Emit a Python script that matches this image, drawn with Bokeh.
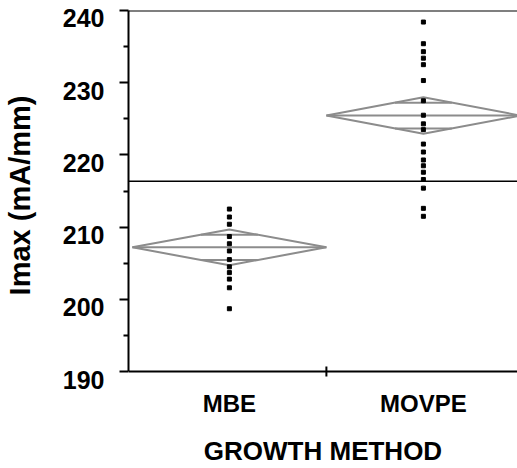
import math
from bokeh.plotting import figure
from bokeh.models import Range1d, FixedTicker, Span, LinearAxis
from bokeh.embed import file_html
from bokeh.resources import INLINE

# ---- data ----
groups = ["MBE", "MOVPE"]
group_x = [0.5, 1.5]
mbe_values = [212.5, 211.4, 210.4, 208.7, 207.7, 206.7, 205.5, 204.5,
              203.7, 202.8, 201.6, 198.7]
movpe_values = [238.4, 235.4, 234.3, 233.4, 232.5, 230.3, 227.5, 225.5,
                224.3, 223.5, 221.5, 220.4, 219.3, 218.5, 217.6, 216.6,
                215.4, 212.6, 211.5]
group_means = [207.2, 225.45]
ci_half = [2.47, 2.53]
grand_mean = 216.35
y_ticks = [190, 200, 210, 220, 230, 240]
y_minor = [195, 205, 215, 225, 235]
divider = [1.0]
y_title = "Imax (mA/mm)"
x_title = "GROWTH METHOD"

FONT = "Liberation Sans"
GRAY = "#8c8c8c"

Y0, Y1 = 190, 240
PPU = 363 / (Y1 - Y0)          # pixels per y unit (axis 190..240 over 363 px)
pad_bottom = 9 / PPU           # frame continues 9 px below the x axis line
label_shift = 8 / PPU          # tick labels sit ~8 px below their ticks
tick_half = 5 / PPU            # divider tick half length

p = figure(width=517, height=468, output_backend="svg", toolbar_location=None,
           x_range=Range1d(-0.02, 1.985), y_range=Range1d(Y0 - pad_bottom, Y1),
           min_border_left=128, min_border_right=0, min_border_top=10,
           min_border_bottom=86)
p.extra_y_ranges = {"labels": Range1d(Y0 - pad_bottom + label_shift, Y1 + label_shift)}
p.outline_line_color = None
p.xgrid.visible = False
p.ygrid.visible = False
p.background_fill_color = "white"

# means diamonds
half_w = 0.5
xs, ys = [], []
mx0, mx1, my = [], [], []
ox0, ox1, oy = [], [], []
for gx, m, c in zip(group_x, group_means, ci_half):
    xs.append([gx - half_w, gx, gx + half_w, gx])
    ys.append([m, m + c, m, m - c])
    mx0.append(gx - half_w); mx1.append(gx + half_w); my.append(m)
    # overlap marks: at mean +- c/sqrt(2), spanning between diamond edges
    d = half_w * (1 - 1 / math.sqrt(2))
    for s in (1, -1):
        ox0.append(gx - d)
        ox1.append(gx + d)
        oy.append(m + s * c / math.sqrt(2))
p.patches(xs, ys, fill_color=None, line_color=GRAY, line_width=2)
p.segment(mx0, my, mx1, my, line_color=GRAY, line_width=2)
p.segment(ox0, oy, ox1, oy, line_color=GRAY, line_width=2)

# grand mean, top border, x axis line and the divider tick between groups
p.add_layout(Span(location=grand_mean, dimension="width", line_color="black", line_width=1.5))
p.add_layout(Span(location=Y1, dimension="width", line_color="black", line_width=2))
p.add_layout(Span(location=Y0, dimension="width", line_color="black", line_width=2))
p.segment(divider, [Y0 - tick_half] * len(divider), divider, [Y0 + tick_half] * len(divider),
          line_color="black", line_width=2)

# points
px = [group_x[0]] * len(mbe_values) + [group_x[1]] * len(movpe_values)
py = mbe_values + movpe_values
p.scatter(px, py, marker="square", size=4, color="black")

# y axis: line and ticks
ya = p.yaxis[0]
ya.ticker = FixedTicker(ticks=y_ticks, minor_ticks=y_minor)
ya.bounds = (Y0, Y1)
ya.major_label_overrides = {t: "" for t in y_ticks}
ya.major_label_standoff = 0
ya.major_tick_in = 0
ya.major_tick_out = 9
ya.minor_tick_in = 0
ya.minor_tick_out = 5
ya.axis_line_width = 2
ya.major_tick_line_width = 2
ya.minor_tick_line_width = 2

# y axis: tick labels (slightly below the ticks) and the title
yl = LinearAxis(y_range_name="labels", ticker=FixedTicker(ticks=y_ticks))
yl.axis_line_color = None
yl.major_tick_line_color = None
yl.minor_tick_line_color = None
yl.major_tick_in = 0
yl.major_tick_out = 0
yl.minor_tick_in = 0
yl.minor_tick_out = 0
yl.major_label_text_font = FONT
yl.major_label_text_font_size = "25px"
yl.major_label_text_font_style = "bold"
yl.major_label_text_color = "black"
yl.major_label_standoff = 15
yl.axis_label = y_title
yl.axis_label_text_font = FONT
yl.axis_label_text_font_size = "29px"
yl.axis_label_text_font_style = "bold"
yl.axis_label_text_color = "black"
yl.axis_label_standoff = 24
p.add_layout(yl, "left")

# x axis: category labels and title (line drawn above at y = Y0)
xa = p.xaxis[0]
xa.ticker = FixedTicker(ticks=group_x)
xa.major_label_overrides = {gx: g for gx, g in zip(group_x, groups)}
xa.axis_line_color = None
xa.major_tick_line_color = None
xa.minor_tick_line_color = None
xa.major_tick_in = 0
xa.major_tick_out = 0
xa.minor_tick_in = 0
xa.minor_tick_out = 0
xa.major_label_text_font = FONT
xa.major_label_text_font_size = "24px"
xa.major_label_text_font_style = "bold"
xa.major_label_text_color = "black"
xa.major_label_standoff = 9
xa.axis_label = x_title
xa.axis_label_text_font = FONT
xa.axis_label_text_font_size = "26px"
xa.axis_label_text_font_style = "bold"
xa.axis_label_text_color = "black"
xa.axis_label_standoff = 16

open("out.html", "w").write(file_html(p, INLINE))
